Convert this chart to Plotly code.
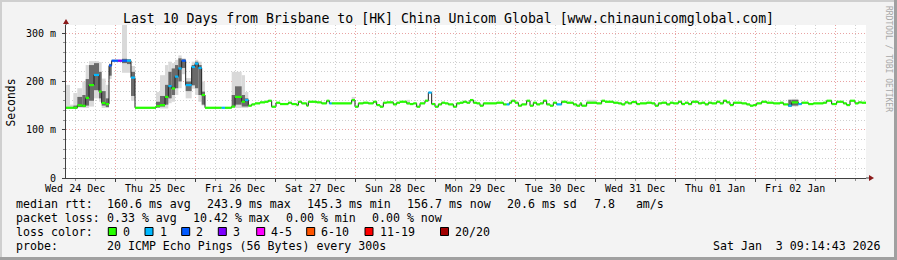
import plotly.graph_objects as go
from datetime import datetime, timedelta

# ---------------- data ----------------
graph_start = datetime(2025, 12, 24, 9, 14, 43)
graph_end = datetime(2026, 1, 3, 9, 14, 43)

# start of each consolidated step, hours after graph_start
step_hours = [
    0.0, 1.2, 2.2, 3.4, 4.9, 5.9, 6.9, 8.4, 9.9, 10.7, 11.9, 12.9, 13.7, 15.6, 16.8, 18.3, 19.5, 20.7,
    27.0, 28.2, 29.7, 30.7, 31.7, 32.7, 33.7, 34.7, 35.9, 37.7, 38.7, 39.7, 40.7, 41.7, 46.7, 47.7,
    49.7, 50.7, 52.7, 53.7,
    54.7, 55.7, 56.7, 58.2, 59.7, 60.7, 61.7, 63.0, 64.2, 66.7, 67.7, 69.2, 69.7, 70.7, 72.2, 72.7,
    75.2, 76.7, 78.2, 79.0, 79.7, 85.7, 86.7, 87.7, 89.2, 90.7, 92.2, 93.2, 94.2, 95.2, 96.2, 98.2,
    99.2, 100.2, 102.2, 103.2, 104.2, 105.2, 106.2, 107.7, 108.7, 109.7, 110.7, 111.7, 112.7, 113.7,
    114.7, 116.2, 117.2, 118.2, 119.2, 120.2, 121.2, 122.2, 123.2, 124.2, 125.2, 129.2, 131.2, 132.2,
    133.0, 133.7, 134.7, 135.7, 136.7, 138.2, 139.2, 140.2, 141.2, 142.2, 143.2, 144.2, 145.2, 146.2,
    147.2,
    148.7, 150.2, 152.2, 153.2, 154.2, 154.7, 156.2, 159.2, 160.7, 161.7, 164.2, 165.7, 166.7, 167.7,
    168.7, 169.7, 171.2, 172.2, 174.2, 175.7, 176.7, 177.7, 178.7, 180.2, 181.2, 182.2, 183.7, 184.7,
    185.7, 186.7, 187.7, 189.7, 190.7, 191.7, 192.7, 193.7, 195.2, 196.2, 197.2, 198.2, 199.2, 200.2,
    202.7, 204.2, 205.2, 206.2, 207.2, 208.7, 210.2, 212.2, 214.2, 215.2, 216.7, 217.7, 219.7, 220.7,
    222.7, 224.2, 227.2, 228.2, 229.7, 231.2, 233.2, 234.2, 235.2, 236.7, 237.7, 238.7,
]

# median rtt of each step, ms
median_ms = [
    145.5, 145.5, 145.5, 150.5, 149.5, 166, 192.5, 213.5, 179, 155.5, 153, 233, 243, 243, 243, 243, 208, 145.5,
    149, 151, 168, 190.5, 185.5, 210, 227, 243, 192.5, 230, 237, 228, 172, 145.5, 145.5, 145.5,
    148, 168, 158, 161.5,
    149.8, 152.5, 154.6, 156.7, 158.0, 160.1, 147.7, 156.0, 153.2, 156.0, 153.2, 151.1, 158.0, 154.6, 149.8, 158.0,
    156.7, 154.6, 160.1, 154.6, 154.6, 161.5, 147.7, 154.6, 156.0, 154.6, 158.0, 151.1, 147.7, 156.0, 156.7, 152.5,
    156.0, 158.0, 154.6, 153.2, 154.6, 147.7, 154.6, 160.1, 177.0, 153.2, 147.7, 152.5, 156.0, 154.6,
    152.5, 147.7, 154.6, 156.0, 158.0, 156.0, 161.5, 156.0, 154.6, 149.8, 154.6, 156.0, 152.5, 152.5,
    156.0, 160.1, 156.0, 149.8, 152.5, 160.1, 149.8, 156.0, 152.5, 154.6, 160.1, 152.5, 149.8, 156.0,
    152.5,
    158.0, 156.0, 152.5, 149.8, 154.6, 149.8, 156.0, 154.6, 160.1, 158.0, 156.0, 154.6, 152.5, 156.7,
    154.6, 157.4, 153.2, 154.6, 156.0, 154.6, 149.8, 154.6, 156.0, 152.5, 156.0, 154.6, 158.0, 153.2,
    156.0, 153.2, 158.0, 154.6, 156.0, 152.5, 156.0, 154.6, 158.0, 154.6, 160.1, 156.7, 151.1, 156.0,
    154.6, 152.5, 149.8, 151.1, 154.6, 158.0, 156.0, 154.6, 156.0, 152.5, 149.8, 156.7, 153.2, 156.0,
    153.2, 154.6, 156.0, 160.1, 153.2, 158.0, 154.6, 151.1, 160.1, 154.6, 156.7, 156.0,
]

# steps with lost pings (out of 20); all other steps lost 0
loss_step_hours = [8.4, 12.9, 13.7, 15.6, 16.8, 18.3, 19.5, 30.7, 32.7, 33.7, 34.7, 35.9, 37.7, 38.7, 39.7,
                   46.7, 53.7, 79.0, 108.7, 132.2, 147.2, 216.7, 219.7]
loss_pings = [1, 2, 2, 3, 2, 1, 1, 1, 1, 1, 2, 1, 1, 1, 1,
              1, 1, 1, 1, 1, 1, 1, 1]

# smoke (spread of the 20 pings) for steps that show it, ms
smoke_step_hours = [0.0, 1.2, 2.2, 3.4, 4.9, 5.9, 6.9, 8.4, 9.9, 10.7, 11.9, 12.9, 13.7, 15.6, 16.8, 18.3, 19.5,
                    27.0, 28.2, 29.7, 30.7, 31.7, 32.7, 33.7, 34.7, 35.9, 37.7, 38.7, 39.7, 40.7,
                    49.7, 50.7, 52.7, 53.7, 85.7, 102.2, 156.2, 216.7, 217.7]
smoke_lo = [144, 144, 144, 146, 145, 145, 148, 165, 158, 145, 145, 205, 240, 240, 218, 218, 160,
            145, 144, 144, 155, 158, 172, 186, 215, 165, 185, 172, 158, 150,
            145, 145, 145, 145, 158, 152, 154, 147, 148]
smoke_hi = [193, 152, 176, 186, 200, 234, 242, 242, 240, 206, 193, 238, 246, 246, 318, 246, 232,
            178, 213, 234, 241, 238, 245, 254, 248, 207, 241, 245, 241, 200,
            220, 220, 213, 178, 168, 162, 162, 163, 164]
core_lo = [None, None, 144, 147, 147, 150, 160, 182, 165, 150, 147, 212, None, None, 238, 236, 170,
           146, 148, 152, 165, 172, 186, 200, 228, 180, 192, 186, 172, 152,
           148, 152, 148, 148, None, None, None, 148, 150]
core_hi = [None, None, 150, 168, 172, 205, 234, 238, 220, 180, 165, 236, None, None, 247, 246, 220,
           158, 170, 193, 220, 227, 234, 248, 246, 200, 234, 241, 234, 179,
           172, 190, 172, 165, None, None, None, 162, 162]

loss_labels = ["0", "1", "2", "3", "4-5", "6-10", "11-19", "20/20"]
loss_upper = [0, 1, 2, 3, 5, 10, 19, 20]
loss_colors = ["#26ff00", "#00b8ff", "#0059ff", "#7e00ff", "#ff00ff", "#ff5500", "#ff0000", "#a10000"]

day_ticks = ["2025-12-24 12:00", "2025-12-25 12:00", "2025-12-26 12:00", "2025-12-27 12:00",
             "2025-12-28 12:00", "2025-12-29 12:00", "2025-12-30 12:00", "2025-12-31 12:00",
             "2026-01-01 12:00", "2026-01-02 12:00"]
day_labels = ["Wed 24 Dec", "Thu 25 Dec", "Fri 26 Dec", "Sat 27 Dec", "Sun 28 Dec",
              "Mon 29 Dec", "Tue 30 Dec", "Wed 31 Dec", "Thu 01 Jan", "Fri 02 Jan"]
midnight_ticks = ["2025-12-25", "2025-12-26", "2025-12-27", "2025-12-28", "2025-12-29",
                  "2025-12-30", "2025-12-31", "2026-01-01", "2026-01-02", "2026-01-03"]
y_ticks = [0, 100, 200, 300]
y_labels = ["0", "100 m", "200 m", "300 m"]

title_text = "Last 10 Days from Brisbane to [HK] China Unicom Global [www.chinaunicomglobal.com]"
rtt_stats = ["160.6 ms avg", "243.9 ms max", "145.3 ms min", "156.7 ms now", "20.6 ms sd", "7.8   am/s"]
loss_stats = ["0.33 % avg", "10.42 % max", "0.00 % min", "0.00 % now"]
probe_text = "20 ICMP Echo Pings (56 Bytes) every 300s"
stamp_text = "Sat Jan  3 09:14:43 2026"

assert len(step_hours) == len(median_ms)

# ---------------- layout constants ----------------
W, H = 897, 260
L, T, PW, PH = 66, 25, 800, 153
Y_TOP = 317.0
MONO = "DejaVu Sans Mono"


def fx(px):
    return (px - L) / PW


def fy(py):
    return 1 - (py - T) / PH


def nb(s):
    return s.replace(" ", "\u00a0")


starts = [graph_start + timedelta(hours=h) for h in step_hours]
ends = starts[1:] + [graph_end]
loss_map = dict(zip(loss_step_hours, loss_pings))
step_loss = [loss_map.get(h, 0) for h in step_hours]


def bucket(n):
    for i, up in enumerate(loss_upper):
        if n <= up:
            return i
    return len(loss_upper) - 1


fig = go.Figure()

# smoke
idx_of = {h: i for i, h in enumerate(step_hours)}
for lo_list, hi_list, col in ((smoke_lo, smoke_hi, "#d9d9d9"), (core_lo, core_hi, "#6a6a6a")):
    bx, by, bb, bw = [], [], [], []
    for h, lo, hi in zip(smoke_step_hours, lo_list, hi_list):
        if lo is None:
            continue
        i = idx_of[h]
        s, e = starts[i], ends[i]
        bx.append(s + (e - s) / 2)
        bw.append((e - s).total_seconds() * 1000)
        bb.append(lo)
        by.append(hi - lo)
    fig.add_trace(go.Bar(x=bx, y=by, base=bb, width=bw, marker=dict(color=col, line=dict(width=0)),
                         hoverinfo="skip"))

# thin dark median line (draws the vertical steps)
fig.add_trace(go.Scatter(x=starts + [graph_end], y=median_ms + [median_ms[-1]], mode="lines",
                         line=dict(color="#202020", width=1, shape="hv"), hoverinfo="skip"))

# coloured median segments by loss
for b, col in enumerate(loss_colors):
    xs, ys = [], []
    for s, e, v, n in zip(starts, ends, median_ms, step_loss):
        if bucket(n) == b:
            xs += [s, e, None]
            ys += [v, v, None]
    if xs:
        fig.add_trace(go.Scatter(x=xs, y=ys, mode="lines", line=dict(color=col, width=2.2),
                                 hoverinfo="skip"))

# invisible trace for label axis
fig.add_trace(go.Scatter(x=[graph_start, graph_end], y=[0, 0], xaxis="x2", mode="markers",
                         marker=dict(opacity=0), hoverinfo="skip"))

grid_minor = "#d0d0d0"
grid_major = "#e9a3a3"
axis_col = "#404040"

fig.update_layout(
    width=W, height=H,
    margin=dict(l=L, r=W - L - PW, t=T, b=H - T - PH, pad=0),
    paper_bgcolor="#f3f3f3", plot_bgcolor="#ffffff",
    showlegend=False, hovermode=False, barmode="overlay",
    xaxis=dict(type="date", range=[graph_start, graph_end], tickvals=midnight_ticks,
               showticklabels=False, showgrid=True, gridcolor=grid_major, griddash="1px,2px", gridwidth=1,
               ticks="outside", ticklen=3, tickcolor=axis_col,
               minor=dict(dtick=6 * 3600 * 1000, tick0="2025-12-24", showgrid=True, gridcolor=grid_minor,
                          griddash="1px,2px", ticks="outside", ticklen=2, tickcolor="#909090"),
               showline=True, linecolor=axis_col, linewidth=1, zeroline=False, fixedrange=True),
    xaxis2=dict(type="date", overlaying="x", anchor="y", side="bottom", range=[graph_start, graph_end],
                tickvals=day_ticks, ticktext=day_labels, showgrid=False, showline=False, ticks="",
                tickfont=dict(family=MONO, size=10, color="#000000"), ticklabelstandoff=3,
                zeroline=False, fixedrange=True),
    yaxis=dict(range=[0, Y_TOP], tickvals=y_ticks, ticktext=y_labels,
               tickfont=dict(family=MONO, size=10, color="#000000"),
               showgrid=True, gridcolor=grid_major, griddash="1px,2px", gridwidth=1,
               ticks="outside", ticklen=3, tickcolor=axis_col, ticklabelstandoff=4,
               minor=dict(dtick=20, showgrid=True, gridcolor=grid_minor, griddash="1px,2px",
                          ticks="outside", ticklen=2, tickcolor="#909090"),
               showline=True, linecolor=axis_col, linewidth=1, zeroline=False, fixedrange=True),
)

shapes = []
# 3D frame
shapes.append(dict(type="rect", xref="paper", yref="paper", x0=fx(0), x1=fx(W), y0=fy(0), y1=fy(2),
                   fillcolor="#cfcfcf", line=dict(width=0)))
shapes.append(dict(type="rect", xref="paper", yref="paper", x0=fx(0), x1=fx(2), y0=fy(0), y1=fy(H),
                   fillcolor="#cfcfcf", line=dict(width=0)))
shapes.append(dict(type="rect", xref="paper", yref="paper", x0=fx(0), x1=fx(W), y0=fy(H - 3), y1=fy(H),
                   fillcolor="#a0a0a0", line=dict(width=0)))
shapes.append(dict(type="rect", xref="paper", yref="paper", x0=fx(W - 3), x1=fx(W), y0=fy(0), y1=fy(H),
                   fillcolor="#a0a0a0", line=dict(width=0)))
# axis extension + arrows
shapes.append(dict(type="line", xref="paper", yref="paper", x0=fx(L), x1=fx(L), y0=fy(T), y1=fy(T - 3),
                   line=dict(color=axis_col, width=1)))
shapes.append(dict(type="path", xref="paper", yref="paper",
                   path=f"M {fx(L - 3)} {fy(T - 1)} L {fx(L + 3)} {fy(T - 1)} L {fx(L)} {fy(T - 6)} Z",
                   fillcolor="#8b1a1a", line=dict(width=0)))
shapes.append(dict(type="line", xref="paper", yref="paper", x0=fx(L + PW), x1=fx(L + PW + 3),
                   y0=fy(T + PH), y1=fy(T + PH), line=dict(color=axis_col, width=1)))
shapes.append(dict(type="path", xref="paper", yref="paper",
                   path=f"M {fx(L + PW + 3)} {fy(T + PH - 3)} L {fx(L + PW + 3)} {fy(T + PH + 3)} "
                        f"L {fx(L + PW + 8)} {fy(T + PH)} Z",
                   fillcolor="#8b1a1a", line=dict(width=0)))

ann = []


def text_at(px, py, s, size=11.6, anchor="left", color="#000000"):
    ann.append(dict(xref="paper", yref="paper", x=fx(px), y=fy(py), text=nb(s), showarrow=False,
                    xanchor=anchor, yanchor="middle", borderpad=0, borderwidth=0,
                    font=dict(family=MONO, size=size, color=color)))


# title and labels
text_at(448, 18.5, title_text, size=13.2, anchor="center")
ann.append(dict(xref="paper", yref="paper", x=fx(10.5), y=fy(102), text="Seconds", showarrow=False,
                textangle=-90, xanchor="center", yanchor="middle", borderpad=0, borderwidth=0,
                font=dict(family=MONO, size=11.4, color="#000000")))
ann.append(dict(xref="paper", yref="paper", x=fx(889), y=fy(59), text=nb("RRDTOOL / TOBI OETIKER"),
                showarrow=False, textangle=90, xanchor="center", yanchor="middle", borderpad=0,
                borderwidth=0, font=dict(family=MONO, size=8, color="#a8a8a8")))

# legend lines
row_y = [204, 218.3, 232, 246.3]
text_at(15.5, row_y[0], "median rtt:")
for px, s in zip([107, 207, 307, 407, 507.3, 593.6], rtt_stats):
    text_at(px, row_y[0], s)
text_at(15.5, row_y[1], "packet loss:")
for px, s in zip([107, 193, 286.3, 372], loss_stats):
    text_at(px, row_y[1], s)
text_at(15.5, row_y[2], "loss color:")
sq_px = [108.3, 145, 181.7, 218.3, 256.7, 306.7, 365, 440.5]
for px, lab, col in zip(sq_px, loss_labels, loss_colors):
    shapes.append(dict(type="rect", xref="paper", yref="paper", x0=fx(px), x1=fx(px + 8),
                       y0=fy(row_y[2] - 4.5), y1=fy(row_y[2] + 3.5), fillcolor=col,
                       line=dict(color="#000000", width=1)))
    text_at(px + 14.5, row_y[2], lab)
text_at(15.5, row_y[3], "probe:")
text_at(107, row_y[3], probe_text)
text_at(880.5, row_y[3], stamp_text, anchor="right")

fig.update_layout(shapes=shapes, annotations=ann)
fig.write_html("out.html")
